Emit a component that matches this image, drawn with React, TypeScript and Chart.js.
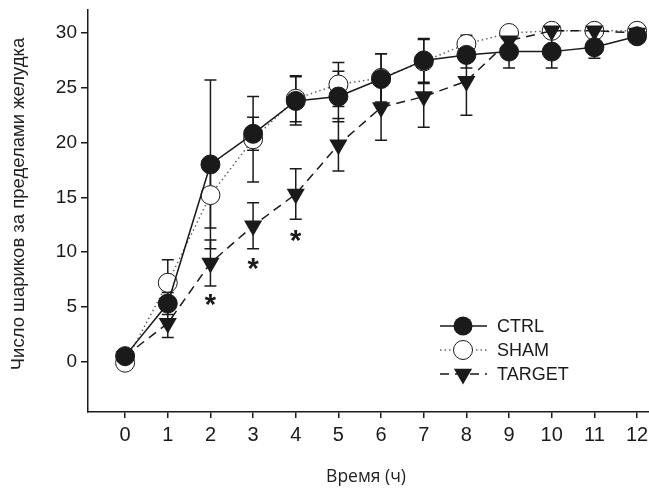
import React, { useEffect, useRef } from 'react';
import { Chart, registerables } from 'chart.js';

Chart.register(...registerables);

const hours = [0, 1, 2, 3, 4, 5, 6, 7, 8, 9, 10, 11, 12];
const ctrlValues = [0.5, 5.3, 18.0, 20.8, 23.8, 24.2, 25.8, 27.5, 28.0, 28.3, 28.3, 28.7, 29.7];
const ctrlErrors = [0.3, 1.0, 7.7, 1.5, 2.2, 2.3, 2.3, 2.0, 1.2, 1.5, 1.5, 1.0, 0.5];
const shamValues = [-0.1, 7.2, 15.2, 20.3, 24.0, 25.3, 25.9, 27.4, 29.0, 30.0, 30.2, 30.2, 30.2];
const shamErrors = [0.3, 2.1, 3.0, 3.9, 2.1, 2.0, 2.2, 2.0, 0.8, 0.5, 0.4, 0.4, 0.3];
const targetValues = [0.5, 3.5, 9.0, 12.4, 15.3, 19.8, 23.2, 24.2, 25.6, 29.3, 30.2, 30.2, 30.0];
const targetErrors = [0.3, 1.3, 2.1, 2.1, 2.3, 2.4, 3.0, 2.8, 3.1, 0.5, 0.4, 0.4, 0.3];
const yTickValues = [0, 5, 10, 15, 20, 25, 30];
const xTickValues = hours;
const asteriskX = [2, 3, 4];
const asteriskY = [5.6, 8.9, 11.5];
const seriesLabels = ['CTRL', 'SHAM', 'TARGET'];
const xTitle = 'Время (ч)';
const yTitle = 'Число шариков за пределами желудка';

const INK = '#1a1a1a';

const toPoints = (vals: number[]) => hours.map((h, i) => ({ x: h, y: vals[i] }));

const errorSets = [ctrlErrors, shamErrors, targetErrors];

const errorBarPlugin = {
  id: 'errorBars',
  beforeDatasetsDraw(chart: any) {
    const { ctx } = chart;
    const xs = chart.scales.x;
    const ys = chart.scales.y;
    ctx.save();
    ctx.strokeStyle = INK;
    ctx.lineWidth = 1.5;
    ctx.setLineDash([]);
    chart.data.datasets.forEach((ds: any, di: number) => {
      const errs = errorSets[di];
      ds.data.forEach((p: any, i: number) => {
        const e = errs[i];
        const px = xs.getPixelForValue(p.x);
        const top = ys.getPixelForValue(p.y + e);
        const bot = ys.getPixelForValue(p.y - e);
        const cw = 6;
        ctx.beginPath();
        ctx.moveTo(px, top);
        ctx.lineTo(px, bot);
        ctx.moveTo(px - cw, top);
        ctx.lineTo(px + cw, top);
        ctx.moveTo(px - cw, bot);
        ctx.lineTo(px + cw, bot);
        ctx.stroke();
      });
    });
    ctx.restore();
  },
};

const asteriskPlugin = {
  id: 'asterisks',
  afterDatasetsDraw(chart: any) {
    const { ctx } = chart;
    const xs = chart.scales.x;
    const ys = chart.scales.y;
    ctx.save();
    ctx.fillStyle = INK;
    ctx.font = 'bold 29px "Liberation Sans", Arial, sans-serif';
    ctx.textAlign = 'center';
    ctx.textBaseline = 'middle';
    asteriskX.forEach((xv, i) => {
      ctx.fillText('*', xs.getPixelForValue(xv), ys.getPixelForValue(asteriskY[i]) + 6);
    });
    ctx.restore();
  },
};

const xLabelsPlugin = {
  id: 'xTickLabels',
  afterDraw(chart: any) {
    const { ctx } = chart;
    const xs = chart.scales.x;
    ctx.save();
    ctx.fillStyle = INK;
    ctx.font = '20px "Liberation Sans", Arial, sans-serif';
    ctx.textAlign = 'center';
    ctx.textBaseline = 'middle';
    xTickValues.forEach((v) => {
      ctx.fillText(String(v), xs.getPixelForValue(v), chart.chartArea.bottom + 23);
    });
    ctx.restore();
  },
};

const titlesPlugin = {
  id: 'axisTitles',
  afterDraw(chart: any) {
    const { ctx } = chart;
    ctx.save();
    ctx.fillStyle = '#222';
    ctx.textAlign = 'center';
    ctx.textBaseline = 'middle';
    ctx.font = '17.5px "Open Sans", sans-serif';
    ctx.fillText(xTitle, 366, 477);
    ctx.translate(19, 204);
    ctx.rotate(-Math.PI / 2);
    ctx.font = '18.5px "Liberation Sans", Arial, sans-serif';
    ctx.fillText(yTitle, 0, 0);
    ctx.restore();
  },
};

const legendPlugin = {
  id: 'customLegend',
  afterDraw(chart: any) {
    const { ctx } = chart;
    const x0 = 440;
    const x1 = 487;
    const mx = 463;
    const rows = [326, 350, 374];
    ctx.save();
    rows.forEach((ry, i) => {
      ctx.strokeStyle = INK;
      ctx.lineWidth = 1.5;
      if (i === 0) ctx.setLineDash([]);
      if (i === 1) { ctx.setLineDash([1.5, 3]); ctx.strokeStyle = '#666'; }
      if (i === 2) ctx.setLineDash([9, 6]);
      ctx.beginPath();
      ctx.moveTo(x0, ry);
      ctx.lineTo(x1, ry);
      ctx.stroke();
      ctx.setLineDash([]);
      ctx.strokeStyle = INK;
      ctx.lineWidth = 1;
      if (i === 0) {
        ctx.fillStyle = INK;
        ctx.beginPath();
        ctx.arc(mx, ry, 9.5, 0, Math.PI * 2);
        ctx.fill();
      } else if (i === 1) {
        ctx.fillStyle = '#fff';
        ctx.beginPath();
        ctx.arc(mx, ry, 9.5, 0, Math.PI * 2);
        ctx.fill();
        ctx.stroke();
      } else {
        const r = 10.5;
        ctx.fillStyle = INK;
        ctx.beginPath();
        ctx.moveTo(mx, ry + r);
        ctx.lineTo(mx - r * Math.sin(Math.PI / 3), ry - r / 2);
        ctx.lineTo(mx + r * Math.sin(Math.PI / 3), ry - r / 2);
        ctx.closePath();
        ctx.fill();
      }
      ctx.fillStyle = INK;
      ctx.font = '18px "Liberation Sans", Arial, sans-serif';
      ctx.textAlign = 'left';
      ctx.textBaseline = 'middle';
      ctx.fillText(seriesLabels[i], 497, ry + 1);
    });
    ctx.restore();
  },
};

export default function App() {
  const ref = useRef<HTMLCanvasElement | null>(null);

  useEffect(() => {
    if (!ref.current) return;
    const chart = new Chart(ref.current, {
      type: 'line',
      data: {
        datasets: [
          {
            label: seriesLabels[0],
            data: toPoints(ctrlValues),
            borderColor: INK,
            borderWidth: 1.5,
            backgroundColor: INK,
            pointBackgroundColor: INK,
            pointBorderColor: INK,
            pointBorderWidth: 1,
            pointRadius: 9.5,
            pointStyle: 'circle',
            order: 1,
          },
          {
            label: seriesLabels[1],
            data: toPoints(shamValues),
            borderColor: '#666',
            borderWidth: 1.5,
            borderDash: [1.5, 3],
            backgroundColor: '#fff',
            pointBackgroundColor: '#fff',
            pointBorderColor: INK,
            pointBorderWidth: 1,
            pointRadius: 9.5,
            pointStyle: 'circle',
            order: 2,
          },
          {
            label: seriesLabels[2],
            data: toPoints(targetValues),
            borderColor: INK,
            borderWidth: 1.5,
            borderDash: [9, 6],
            backgroundColor: INK,
            pointBackgroundColor: INK,
            pointBorderColor: INK,
            pointBorderWidth: 0,
            pointRadius: 10.5,
            pointStyle: 'triangle',
            rotation: 180,
            order: 0,
          },
        ] as any,
      },
      options: {
        animation: false,
        responsive: false,
        maintainAspectRatio: false,
        layout: { autoPadding: false, padding: { top: 10, right: 0, left: 0, bottom: 0 } },
        plugins: {
          legend: { display: false },
          tooltip: { enabled: false },
        },
        scales: {
          x: {
            type: 'linear',
            min: -0.87,
            max: 12.28,
            afterBuildTicks: (scale: any) => {
              scale.ticks = xTickValues.map((v) => ({ value: v }));
            },
            afterFit: (scale: any) => {
              scale.height = 76;
              scale.paddingRight = 0;
              scale.paddingLeft = 0;
            },
            grid: {
              display: true,
              drawOnChartArea: false,
              drawTicks: true,
              tickLength: 6,
              color: INK,
              lineWidth: 1.5,
            },
            border: { display: true, color: INK, width: 1.5 },
            ticks: { display: false },
          },
          y: {
            type: 'linear',
            min: -4.6,
            max: 32.1,
            afterBuildTicks: (scale: any) => {
              scale.ticks = yTickValues.map((v) => ({ value: v }));
            },
            afterFit: (scale: any) => {
              scale.width = 88;
              scale.paddingTop = 0;
              scale.paddingBottom = 0;
            },
            grid: {
              display: true,
              drawOnChartArea: false,
              drawTicks: true,
              tickLength: 7,
              color: INK,
              lineWidth: 1.5,
            },
            border: { display: true, color: INK, width: 1.5 },
            ticks: {
              color: INK,
              padding: 4,
              font: { family: '"Liberation Sans", Arial, sans-serif', size: 19 },
              callback: (v: any) => String(v),
            },
          },
        },
      },
      plugins: [errorBarPlugin, asteriskPlugin, xLabelsPlugin, titlesPlugin, legendPlugin],
    });
    return () => chart.destroy();
  }, []);

  return (
    <div style={{ position: 'absolute', left: 0, top: 0, width: 649, height: 488, background: '#fff' }}>
      <canvas ref={ref} width={649} height={488} />
    </div>
  );
}
